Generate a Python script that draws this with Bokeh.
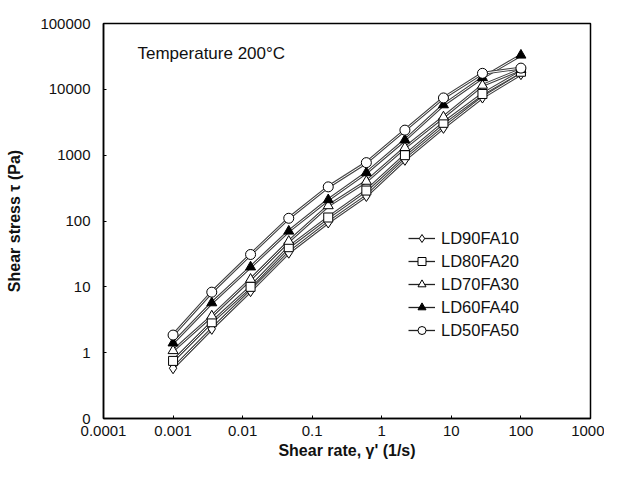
from bokeh.plotting import figure
from bokeh.models import (FixedTicker, Label, Legend, LegendItem, ColumnDataSource)
from bokeh.embed import file_html
from bokeh.resources import INLINE

# ---- data ----
shear_rate = [0.001, 0.0036, 0.013, 0.046, 0.17, 0.6, 2.15, 7.7, 28, 100]
series_names = ["LD90FA10", "LD80FA20", "LD70FA30", "LD60FA40", "LD50FA50"]
ld90fa10 = [0.58, 2.3, 8.6, 33, 95, 240, 850, 2600, 7500, 17000]
ld80fa20 = [0.75, 2.9, 10, 40, 113, 290, 1000, 3100, 8500, 18500]
ld70fa30 = [1.07, 3.6, 13, 49, 170, 400, 1300, 3800, 11500, 20000]
ld60fa40 = [1.4, 5.7, 20, 70, 210, 540, 1700, 5800, 15000, 33000]
ld50fa50 = [1.85, 8.3, 31, 110, 330, 770, 2400, 7400, 17500, 21000]
x_ticks = [0.0001, 0.001, 0.01, 0.1, 1, 10, 100, 1000]
x_tick_labels = ["0.0001", "0.001", "0.01", "0.1", "1", "10", "100", "1000"]
y_ticks = [0.1, 1, 10, 100, 1000, 10000, 100000]
y_tick_labels = ["0", "1", "10", "100", "1000", "10000", "100000"]

FONT = "Liberation Sans"

p = figure(width=604, height=464, x_axis_type="log", y_axis_type="log",
           x_range=(0.0001, 1000), y_range=(0.1, 100000),
           output_backend="svg", toolbar_location=None,
           min_border_left=103, min_border_right=14,
           min_border_top=23, min_border_bottom=46)
p.background_fill_color = "white"
p.border_fill_color = "white"
p.outline_line_color = "black"
p.outline_line_width = 1.5
p.xgrid.visible = False
p.ygrid.visible = False

for ax, ticks, labels in ((p.xaxis[0], x_ticks, x_tick_labels),
                          (p.yaxis[0], y_ticks, y_tick_labels)):
    ax.ticker = FixedTicker(ticks=ticks, minor_ticks=[])
    ax.major_label_overrides = {t: l for t, l in zip(ticks, labels)}
    ax.major_tick_in = 3
    ax.major_tick_out = 0
    ax.minor_tick_in = 0
    ax.minor_tick_out = 0
    ax.axis_line_color = "black"
    ax.axis_line_width = 1.5
    ax.major_label_text_font = FONT
    ax.major_label_text_font_size = "15px"
    ax.major_label_text_color = "#111111"
    ax.axis_label_text_font = FONT
    ax.axis_label_text_font_size = "16px"
    ax.axis_label_text_font_style = "bold"
    ax.axis_label_text_color = "#111111"

p.xaxis.axis_label = "Shear rate, γ' (1/s)"
p.yaxis.axis_label = "Shear stress τ (Pa)"
p.xaxis.major_label_standoff = 7
p.xaxis.axis_label_standoff = 3
p.yaxis.major_label_standoff = 13
p.yaxis.axis_label_standoff = 14

markers = ["diamond", "square", "triangle", "triangle", "circle"]
fills = ["white", "white", "white", "black", "white"]
sizes = [11, 9, 10, 10, 10]
all_y = [ld90fa10, ld80fa20, ld70fa30, ld60fa40, ld50fa50]

srcs = []
for ys in all_y:
    src = ColumnDataSource(dict(x=shear_rate, y=ys))
    p.line("x", "y", source=src, line_color="#444444", line_width=3)
    p.line("x", "y", source=src, line_color="white", line_width=1)
    srcs.append(src)

legend_items = []
for name, src, mk, fc, sz in zip(series_names, srcs, markers, fills, sizes):
    r = p.scatter("x", "y", source=src, marker=mk, size=sz,
                  fill_color=fc, line_color="black", line_width=1)
    blank = ColumnDataSource(dict(x=[float("nan")], y=[float("nan")]))
    lr = p.line("x", "y", source=blank, line_color="#222222", line_width=1.3)
    legend_items.append(LegendItem(label=name, renderers=[lr, r]))

legend = Legend(items=legend_items, location=(305, 78),
                background_fill_alpha=0, border_line_alpha=0,
                padding=0, margin=0, spacing=3,
                glyph_width=27, glyph_height=20, label_height=20,
                label_standoff=6,
                label_text_font=FONT, label_text_font_size="16.5px",
                label_text_color="#111111")
p.add_layout(legend)

title = Label(x=34, y=365, x_units="screen", y_units="screen",
              text="Temperature 200°C", text_font=FONT,
              text_font_size="17px", text_baseline="middle",
              text_color="#111111")
p.add_layout(title)

open("out.html", "w").write(file_html(p, INLINE))
